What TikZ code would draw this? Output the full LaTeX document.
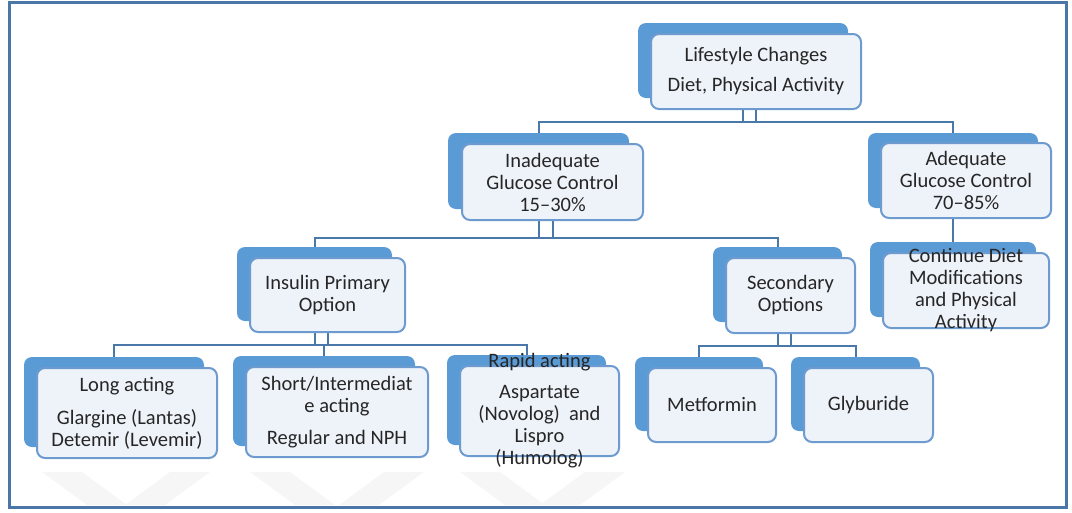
\documentclass[tikz,border=0pt]{standalone}
\usepackage{fontspec}
\setmainfont{Carlito}
\usetikzlibrary{backgrounds}
\definecolor{tabblue}{HTML}{5B9BD5}
\definecolor{frontline}{HTML}{6D9BCF}
\definecolor{frontfill}{HTML}{EEF3FA}
\definecolor{linkblue}{HTML}{4A78A9}
\definecolor{frameblue}{HTML}{4A76A8}
\definecolor{txt}{HTML}{262626}
\begin{document}
\begin{tikzpicture}[
        x=1pt, y=-1pt,
        font=\fontsize{20.5}{22}\selectfont
    ]
    \tikzset{
        tabbox/.style = {rectangle, rounded corners=8pt, fill=tabblue, inner sep=0pt},
        frontbox/.style = {rectangle, rounded corners=8pt, draw=frontline, line width=2pt, fill=frontfill, inner sep=0pt},
        boxtext/.style = {align=center, text=txt, inner sep=0pt},
        link/.style = {draw=linkblue, line width=2pt},
        wmark/.style = {fill=gray!7},
    }
    \useasboundingbox (0,0) rectangle (1072,512);
    % back tabs
    \node[tabbox, minimum width=210pt, minimum height=75pt] at (743,60.5) (lsB) {};
    \node[tabbox, minimum width=181pt, minimum height=76pt] at (538.5,171) (inadB) {};
    \node[tabbox, minimum width=170pt, minimum height=75pt] at (953,170.5) (adeqB) {};
    \node[tabbox, minimum width=166pt, minimum height=75pt] at (953,279.5) (contB) {};
    \node[tabbox, minimum width=155pt, minimum height=74pt] at (314.5,284) (insB) {};
    \node[tabbox, minimum width=129pt, minimum height=75pt] at (777.5,284.5) (secB) {};
    \node[tabbox, minimum width=180pt, minimum height=90pt] at (114,402) (longB) {};
    \node[tabbox, minimum width=182pt, minimum height=90pt] at (324,401) (shortB) {};
    \node[tabbox, minimum width=159pt, minimum height=90pt] at (526.5,400) (rapidB) {};
    \node[tabbox, minimum width=128pt, minimum height=74pt] at (699,394) (metB) {};
    \node[tabbox, minimum width=129pt, minimum height=74pt] at (855.5,394) (glyB) {};
    % front boxes
    \node[frontbox, minimum width=210pt, minimum height=75pt] at (756,71.5) (lsF) {};
    \node[frontbox, minimum width=181pt, minimum height=76pt] at (552.5,182) (inadF) {};
    \node[frontbox, minimum width=170pt, minimum height=75pt] at (966,180.5) (adeqF) {};
    \node[frontbox, minimum width=166pt, minimum height=75pt] at (966,290.5) (contF) {};
    \node[frontbox, minimum width=155pt, minimum height=74pt] at (327.5,295) (insF) {};
    \node[frontbox, minimum width=129pt, minimum height=75pt] at (790.5,295.5) (secF) {};
    \node[frontbox, minimum width=180pt, minimum height=90pt] at (127,413) (longF) {};
    \node[frontbox, minimum width=182pt, minimum height=90pt] at (337,412) (shortF) {};
    \node[frontbox, minimum width=159pt, minimum height=90pt] at (539.5,411) (rapidF) {};
    \node[frontbox, minimum width=128pt, minimum height=74pt] at (712,405) (metF) {};
    \node[frontbox, minimum width=129pt, minimum height=74pt] at (868.5,405) (glyF) {};
    % texts
    \node[boxtext] at (lsF.center) (lsT) {Lifestyle Changes\\[8pt]Diet, Physical Activity};
    \node[boxtext] at (inadF.center) (inadT) {Inadequate\\Glucose Control\\15–30\%};
    \node[boxtext] at (adeqF.center) (adeqT) {Adequate\\Glucose Control\\70–85\%};
    \node[boxtext] at (contF.center) (contT) {Continue Diet\\Modifications\\and Physical\\Activity};
    \node[boxtext] at (insF.center) (insT) {Insulin Primary\\Option};
    \node[boxtext] at (secF.center) (secT) {Secondary\\Options};
    \node[boxtext] at (longF.center) (longT) {Long acting\\[11pt]Glargine (Lantas)\\Detemir (Levemir)};
    \node[boxtext] at (shortF.center) (shortT) {Short/Intermediat\\e acting\\[10pt]Regular and NPH};
    \node[boxtext] at (rapidF.center) (rapidT) {Rapid acting\\[9pt]Aspartate\\(Novolog)~~and\\Lispro\\(Humolog)};
    \node[boxtext] at (metF.center) (metT) {Metformin};
    \node[boxtext] at (glyF.center) (glyT) {Glyburide};
    %
    \begin{scope}[on background layer]
    \foreach \a/\b in {42/210, 250/424, 460/625} {
        \fill[wmark] (\a,472) -- (\a+40,472) -- (\a+85,505) -- (\a+45,505) -- cycle;
        \fill[wmark] (\b,472) -- (\b-40,472) -- (\b-85,505) -- (\b-45,505) -- cycle;
    }
    \coordinate (busA) at (0,122);
    \coordinate (busB) at (0,238);
    \coordinate (busC) at (0,345);
    \coordinate (busD) at (0,346);
    %
    \draw[link] (lsB.south) -- (lsB.south |- busA);
    \draw[link] (lsF.south) -- (lsF.south |- busA);
    \draw[link] (inadB.north) -- (inadB.north |- busA) -- (adeqB.north |- busA) -- (adeqB.north);
    %
    \draw[link] (inadB.south) -- (inadB.south |- busB);
    \draw[link] (inadF.south) -- (inadF.south |- busB);
    \draw[link] (insB.north) -- (insB.north |- busB) -- (secB.north |- busB) -- (secB.north);
    \draw[link] (adeqB.south) -- (contB.north);
    %
    \draw[link] (insB.south) -- (insB.south |- busC);
    \draw[link] (insF.south) -- (insF.south |- busC);
    \draw[link] (longB.north) -- (longB.north |- busC) -- (rapidB.north |- busC) -- (rapidB.north);
    \draw[link] (shortB.north) -- (shortB.north |- busC);
    %
    \draw[link] (secB.south) -- (secB.south |- busD);
    \draw[link] (secF.south) -- (secF.south |- busD);
    \draw[link] (metB.north) -- (metB.north |- busD) -- (glyB.north |- busD) -- (glyB.north);
    \end{scope}
    \draw[frameblue, line width=3pt] (9,2) rectangle (1066,507);
\end{tikzpicture}
\end{document}
